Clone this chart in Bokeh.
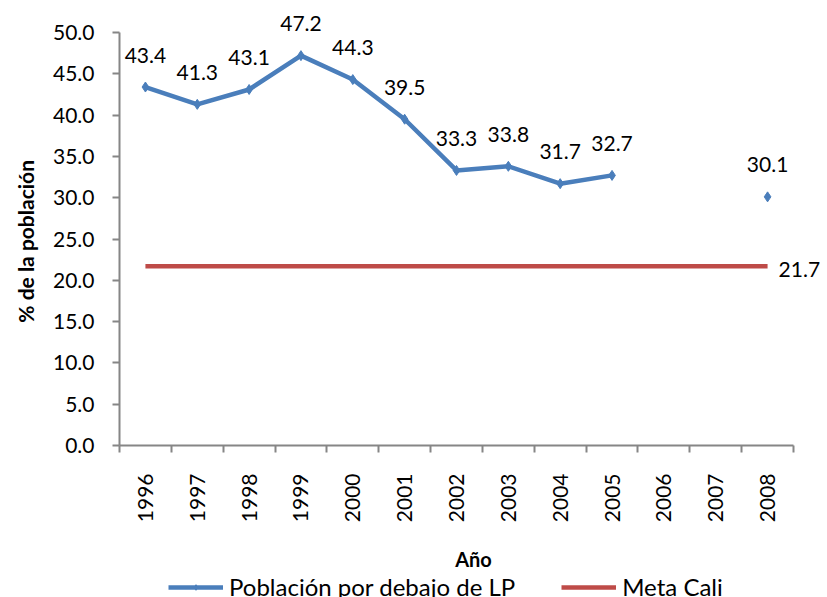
import math
from bokeh.plotting import figure
from bokeh.layouts import column
from bokeh.models import (Range1d, FixedTicker, NumeralTickFormatter, Legend, LegendItem,
                          ColumnDataSource)
from bokeh.core.properties import value
from bokeh.embed import file_html
from bokeh.resources import INLINE

# ---- data ----
years = ["1996", "1997", "1998", "1999", "2000", "2001", "2002",
         "2003", "2004", "2005", "2006", "2007", "2008"]
poblacion_lp = [43.4, 41.3, 43.1, 47.2, 44.3, 39.5, 33.3,
                33.8, 31.7, 32.7, None, None, 30.1]
meta_cali = [21.7, 21.7, 21.7, 21.7, 21.7, 21.7, 21.7,
             21.7, 21.7, 21.7, 21.7, 21.7, 21.7]
y_ticks = [0.0, 5.0, 10.0, 15.0, 20.0, 25.0, 30.0, 35.0, 40.0, 45.0, 50.0]
series_names = ["Población por debajo de LP", "Meta Cali"]

FONT = "Lato"
BLUE = "#4A7EBB"
RED = "#BE4B48"
GRAY = "#868686"

# ---- layout (pixels) ----
AX_LEFT, AX_RIGHT, AX_TOP, AX_BOTTOM = 119, 793, 32, 445   # axis box in the picture
FIG_W, FIG_H = 827, 597
FRAME_TOP = 6
LEG_H = 27
LEG_LEFT = 168
px_x = (AX_RIGHT - AX_LEFT) / len(years)
px_y = (AX_BOTTOM - AX_TOP) / (y_ticks[-1] - y_ticks[0])
frame_w = FIG_W - AX_LEFT
frame_h = AX_BOTTOM - FRAME_TOP

idx = list(range(1, len(years) + 1))
lp_y = [float("nan") if v is None else v for v in poblacion_lp]
valid = [(i, v) for i, v in zip(idx, poblacion_lp) if v is not None]

src_lp = ColumnDataSource(dict(x=idx, y=lp_y))
src_pts = ColumnDataSource(dict(x=[i for i, _ in valid], y=[v for _, v in valid],
                                lab=["%.1f" % v for _, v in valid]))
src_meta = ColumnDataSource(dict(x=idx, y=meta_cali))
src_meta_lab = ColumnDataSource(dict(x=[idx[-1]], y=[meta_cali[-1]], lab=["%.1f" % meta_cali[-1]]))

x0 = idx[0] - 0.5
y0 = y_ticks[0]
p = figure(frame_width=frame_w, frame_height=frame_h,
           x_range=Range1d(x0, x0 + frame_w / px_x),
           y_range=Range1d(y0, y0 + frame_h / px_y),
           output_backend="svg", toolbar_location=None,
           min_border_left=AX_LEFT, min_border_top=FRAME_TOP, min_border_right=0,
           min_border_bottom=FIG_H - LEG_H - AX_BOTTOM)
p.outline_line_color = None
p.grid.visible = False
p.background_fill_color = "white"

# x axis
xa = p.xaxis[0]
xa.ticker = FixedTicker(ticks=idx, minor_ticks=[i - 0.5 for i in idx] + [idx[-1] + 0.5])
xa.bounds = (idx[0] - 0.5, idx[-1] + 0.5)
xa.major_label_overrides = {i: y for i, y in zip(idx, years)}
xa.major_label_orientation = math.pi / 2
xa.major_tick_out = 0
xa.major_tick_in = 0
xa.minor_tick_out = 7
xa.minor_tick_in = 0
xa.minor_tick_line_color = GRAY
xa.minor_tick_line_width = 2
xa.axis_line_color = GRAY
xa.axis_line_width = 2
xa.major_label_text_font = FONT
xa.major_label_text_font_size = "21px"
xa.major_label_text_color = "black"
xa.major_label_standoff = 21
xa.axis_label = "Año"
xa.axis_label_text_font = FONT
xa.axis_label_text_font_style = "bold"
xa.axis_label_text_font_size = "20px"
xa.axis_label_standoff = 22
xa.axis_label_text_color = "black"

# y axis
ya = p.yaxis[0]
ya.ticker = FixedTicker(ticks=y_ticks)
ya.bounds = (y_ticks[0], y_ticks[-1])
ya.formatter = NumeralTickFormatter(format="0.0")
ya.major_tick_out = 7
ya.major_tick_in = 0
ya.minor_tick_line_color = None
ya.major_tick_line_color = GRAY
ya.major_tick_line_width = 2
ya.axis_line_color = GRAY
ya.axis_line_width = 2
ya.major_label_text_font = FONT
ya.major_label_text_font_size = "21px"
ya.major_label_text_color = "black"
ya.major_label_standoff = 18
ya.axis_label = "% de la población" + "\u00a0" * 6
ya.axis_label_text_font = FONT
ya.axis_label_text_font_style = "bold"
ya.axis_label_text_font_size = "21px"
ya.axis_label_standoff = 12
ya.axis_label_text_color = "black"

# glyphs
line_kw_lp = dict(line_color=BLUE, line_width=4.5)
line_kw_meta = dict(line_color=RED, line_width=4.5)
pt_kw = dict(marker="diamond", size=10, fill_color=BLUE, line_color=BLUE)

p.line("x", "y", source=src_meta, **line_kw_meta)
p.line("x", "y", source=src_lp, **line_kw_lp)
p.scatter("x", "y", source=src_pts, **pt_kw)

p.text("x", "y", text="lab", source=src_pts, text_align="center", text_baseline="alphabetic",
       y_offset=-32, text_font=value(FONT), text_font_size="21px", text_color="black")
p.text("x", "y", text="lab", source=src_meta_lab, text_align="left", text_baseline="middle",
       x_offset=11, y_offset=3, text_font=value(FONT), text_font_size="21px", text_color="black")

# ---- legend strip (separate small figure beneath the chart; frames are aligned) ----
leg = figure(width=FIG_W, height=LEG_H, output_backend="svg", toolbar_location=None,
             x_axis_type=None, y_axis_type=None,
             x_range=Range1d(-200, -199), y_range=Range1d(-200, -199),
             min_border=0)
leg.outline_line_color = None
leg.grid.visible = False
g_lp = leg.line("x", "y", source=src_lp, **line_kw_lp)
g_pts = leg.scatter("x", "y", source=src_pts, **pt_kw)
g_meta = leg.line("x", "y", source=src_meta, **line_kw_meta)

legend = Legend(items=[LegendItem(label=series_names[0], renderers=[g_lp, g_pts]),
                       LegendItem(label=series_names[1], renderers=[g_meta])],
                orientation="horizontal", location=(LEG_LEFT - AX_LEFT, 0),
                glyph_width=55, glyph_height=14, label_standoff=6, spacing=46,
                padding=0, margin=0, border_line_color=None, background_fill_alpha=0,
                label_height=14,
                label_text_font=FONT, label_text_font_size="24px", label_text_color="black")
leg.add_layout(legend)

layout = column(p, leg, spacing=0)
open("out.html", "w").write(file_html(layout, INLINE))
